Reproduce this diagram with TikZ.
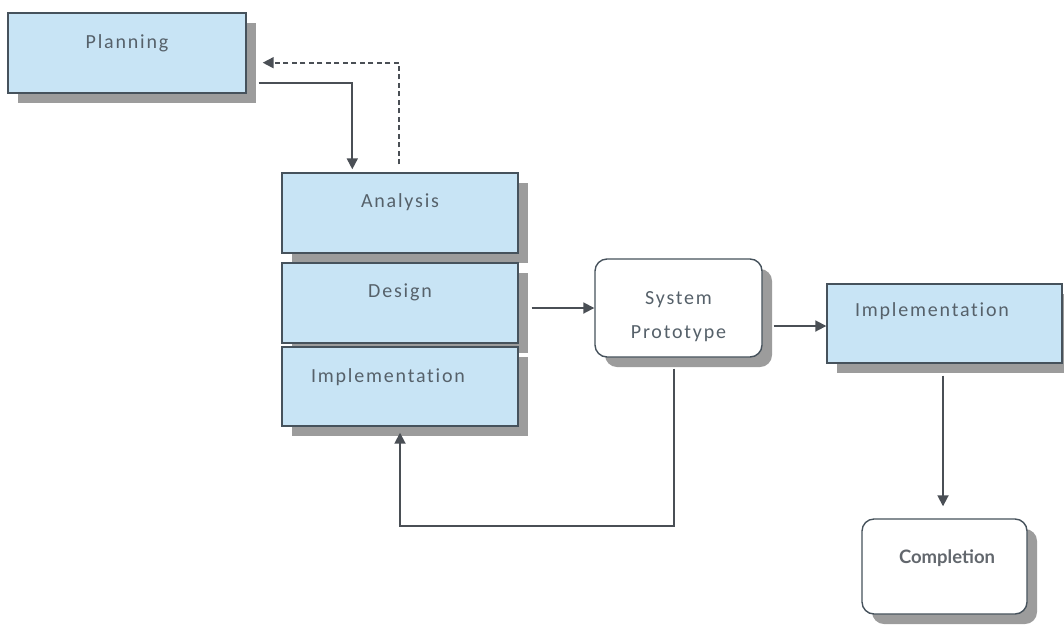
\documentclass[tikz,border=0pt]{standalone}
\usepackage{fontspec}
\setmainfont{Carlito}[LetterSpace=9, Ligatures=NoCommon]
\newfontfamily\compfont{Lato}
\usetikzlibrary{arrows.meta,calc,shadows}
\definecolor{boxfill}{HTML}{C8E4F5}
\definecolor{boxline}{HTML}{46525C}
\definecolor{shadowgray}{HTML}{9C9C9C}
\definecolor{txtgray}{HTML}{56616A}
\definecolor{comptext}{HTML}{62676D}
\definecolor{linegray}{HTML}{4A4F55}
\tikzset{
  phase/.style={draw=boxline, line width=1.4pt, fill=boxfill,
    drop shadow={shadow xshift=10pt, shadow yshift=-10pt, fill=shadowgray, opacity=1}},
  softbox/.style={draw=boxline, line width=1.4pt, fill=white, rounded corners=12pt,
    drop shadow={shadow xshift=10pt, shadow yshift=-10pt, fill=shadowgray, opacity=1}},
  lbl/.style={text=txtgray, font=\fontsize{20}{22}\selectfont, inner sep=0pt, align=center},
  conn/.style={draw=linegray, line width=1.8pt, -{Triangle[length=11pt,width=11pt]}},
}
\begin{document}
\begin{tikzpicture}[x=1pt, y=-1pt]
\useasboundingbox (0,0) rectangle (1064,624);
\fill[white] (0,0) rectangle (1064,624);

% stage boxes
\node[phase, minimum width=238pt, minimum height=80pt] (plan) at (127,53) {};
\node[phase, minimum width=236pt, minimum height=80pt] (ana) at (400,213) {};
\node[phase, minimum width=236pt, minimum height=80pt] (des) at (400,303) {};
\node[phase, minimum width=236pt, minimum height=79pt] (impl) at (400,386.5) {};
\node[softbox, minimum width=167pt, minimum height=98pt] (proto) at (678.5,308) {};
\node[phase, minimum width=235pt, minimum height=79pt] (implr) at (944.5,323.5) {};
\node[softbox, minimum width=165pt, minimum height=95pt] (comp) at (944.5,566.5) {};

% box labels
\node[lbl] (planT) at (127,43) {Planning};
\node[lbl] (anaT) at (400,202) {Analysis};
\node[lbl] (desT) at (400,292) {Design};
\node[lbl] (implT) at (388,377) {Implementation};
\node[lbl, font=\fontsize{20}{34}\selectfont] (protoT) at (678.5,317) {System\\Prototype};
\node[lbl] (implrT) at (932,311) {Implementation};
\node[lbl, font=\compfont\bfseries\fontsize{18.5}{20}\selectfont, text=comptext] (compT) at (947,558) {Completion};

% flow
\draw[conn] ($(plan.south east)+(12,-11)$) -| ($(ana.north west)+(71,-3)$);
\draw[conn, dashed, dash pattern=on 5pt off 3.5pt] ($(ana.north west)+(118,-8)$) |- ($(plan.south east)+(16,-31)$);
\draw[conn] ($(des.east)+(13,5)$) -- (proto.west);
\draw[conn] ($(proto.east)+(11,18)$) -- ($(implr.west)+(0,2.5)$);
\draw[conn] ($(proto.south)+(-4.5,11)$) |- ($(impl.south)+(0,99)$) -- ($(impl.south)+(0,6)$);
\draw[conn] ($(implr.south)+(-1.5,12)$) -- ($(comp.north)+(-1.5,-12)$);
\end{tikzpicture}
\end{document}
